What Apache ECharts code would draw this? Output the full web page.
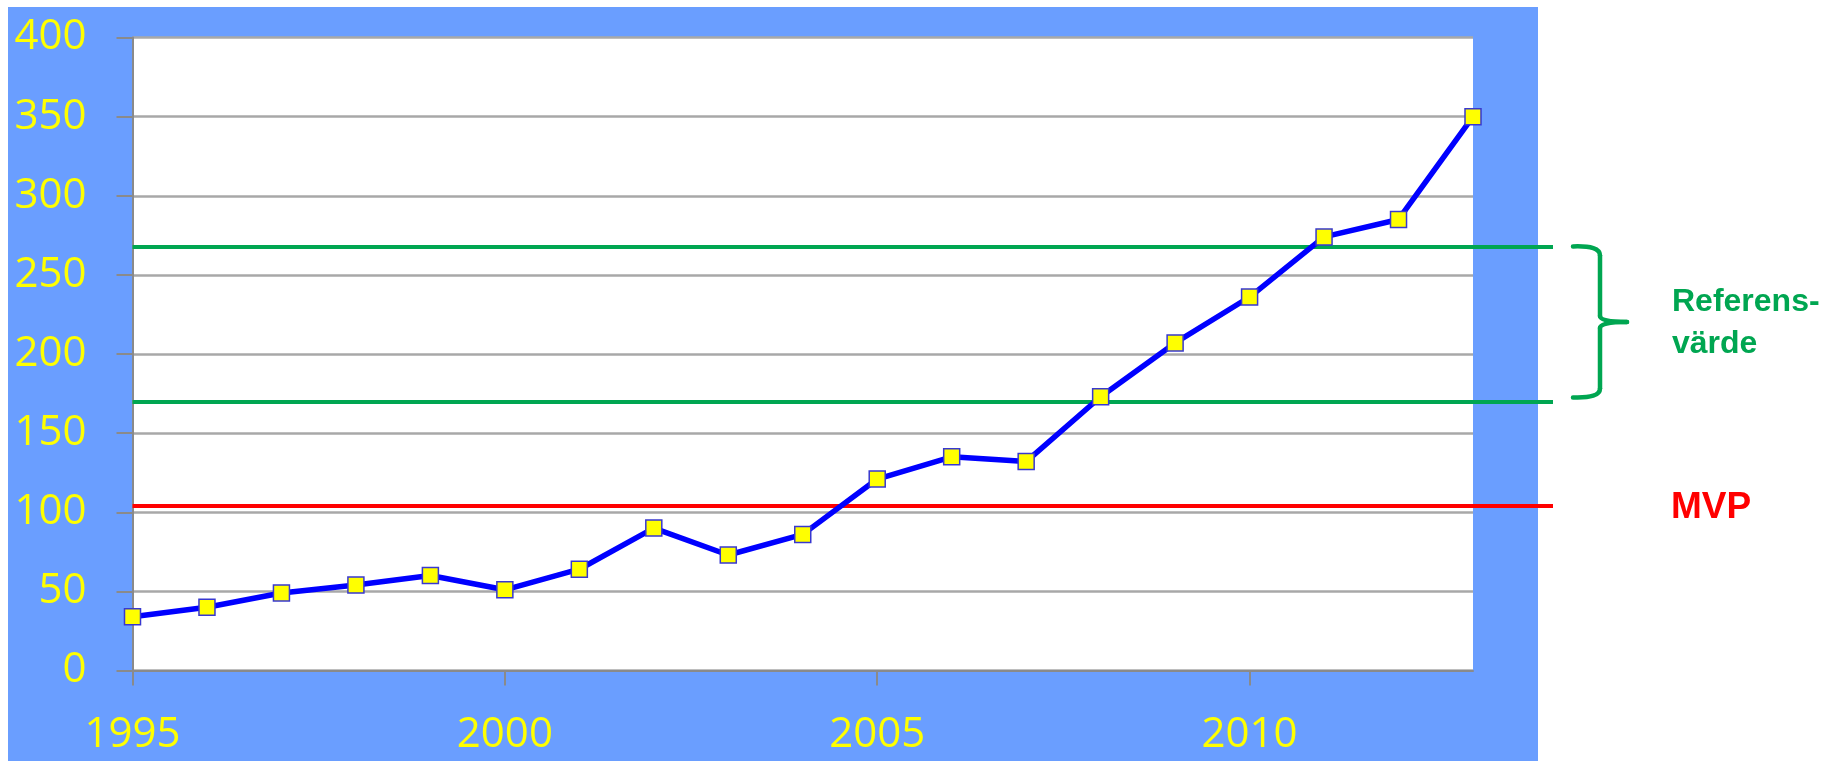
<!DOCTYPE html>
<html>
<head>
<meta charset="utf-8">
<script src="https://cdn.jsdelivr.net/npm/echarts@6/dist/echarts.min.js"></script>
<style>
  html, body { margin: 0; padding: 0; background: #fff; }
  #panel { position: absolute; left: 8px; top: 7px; width: 1530px; height: 754px; background: #6A9EFF; }
  #chart { position: absolute; left: 0; top: 0; width: 1835px; height: 761px; }
</style>
</head>
<body>
<div id="panel"></div>
<div id="chart"></div>
<script>
// yearly counts
const years = [1995, 1996, 1997, 1998, 1999, 2000, 2001, 2002, 2003, 2004,
  2005, 2006, 2007, 2008, 2009, 2010, 2011, 2012, 2013];
const counts = [34, 40, 49, 54, 60, 51, 64, 90, 73, 86,
  121, 135, 132, 173, 207, 236, 274, 285, 350];

// reference band + minimum viable population
const refUpper = 268;
const refLower = 170;
const mvp = 104;
const refLabel = "Referens-\nvärde";
const mvpLabel = "MVP";

const chart = echarts.init(document.getElementById("chart"));

const axisGray = "#8A8A8A";
const labelYellow = "#FFFF00";
const green = "#00A651";

// horizontal lines run from the plot's left edge out past the panel
const hLine = (v, color) => [
  { xAxis: years[0], yAxis: v, lineStyle: { color, width: 4, type: "solid" } },
  { x: 1553, yAxis: v },
];

chart.setOption({
  animation: false,
  backgroundColor: "transparent",
  grid: { left: 132.5, right: 362, top: 37.5, bottom: 90.5, show: true, backgroundColor: "#fff", borderWidth: 0 },
  xAxis: {
    type: "value", min: 1995, max: 2013, interval: 5,
    axisLine: { lineStyle: { color: axisGray, width: 2 } },
    axisTick: { show: true, length: 15, lineStyle: { color: axisGray, width: 2 } },
    axisLabel: { color: labelYellow, fontFamily: "Open Sans", fontSize: 42, margin: 44, showMaxLabel: false,
      formatter: (v) => String(v) },
    splitLine: { show: false },
  },
  yAxis: {
    type: "value", min: 0, max: 400, interval: 50,
    axisLine: { show: true, lineStyle: { color: axisGray, width: 2 } },
    axisTick: { show: true, length: 16, lineStyle: { color: axisGray, width: 2 } },
    axisLabel: { color: labelYellow, fontFamily: "Open Sans", fontSize: 42, margin: 46 },
    splitLine: { lineStyle: { color: "#A8A8A8", width: 2.5 } },
  },
  series: [{
    type: "line",
    data: years.map((y, i) => [y, counts[i]]),
    clip: false,
    lineStyle: { color: "#0000FF", width: 5.5 },
    symbol: "rect", symbolSize: 16,
    itemStyle: { color: "#FFFF00", borderColor: "#3838D0", borderWidth: 1.5 },
    z: 3,
    markLine: {
      silent: true, symbol: "none", label: { show: false }, z: 2,
      data: [hLine(refUpper, green), hLine(refLower, green), hLine(mvp, "#FF0000")],
    },
  }],
});

// annotations on the right, placed from the y scale
const yTop = chart.convertToPixel({ yAxisIndex: 0 }, refUpper);
const yBot = chart.convertToPixel({ yAxisIndex: 0 }, refLower) - 4;
const yMid = (yTop + yBot) / 2;
const yMvp = chart.convertToPixel({ yAxisIndex: 0 }, mvp);
const bx0 = 1573, bx1 = 1600, bxTip = 1627;
const braceStyle = { fill: "none", stroke: green, lineWidth: 4.5, lineCap: "round" };
const curve = (x1, y1, cx, cy, x2, y2) => ({
  type: "bezierCurve", silent: true, style: braceStyle,
  shape: { x1, y1, cpx1: cx, cpy1: cy, x2, y2 },
});
const seg = (x1, y1, x2, y2) => ({ type: "line", silent: true, style: braceStyle, shape: { x1, y1, x2, y2 } });

chart.setOption({
  graphic: [
    curve(bx0, yTop, bx1, yTop - 1, bx1, yTop + 9),
    seg(bx1, yTop + 9, bx1, yMid - 6),
    curve(bx1, yMid - 6, bx1, yMid, bxTip, yMid),
    curve(bxTip, yMid, bx1, yMid, bx1, yMid + 6),
    seg(bx1, yMid + 6, bx1, yBot - 9),
    curve(bx1, yBot - 9, bx1, yBot + 1, bx0, yBot),
    {
      type: "text", silent: true, x: 1672, y: yMid + 1,
      style: { text: refLabel, fill: green, font: "bold 32px 'Liberation Sans'", lineHeight: 42, verticalAlign: "middle" },
    },
    {
      type: "text", silent: true, x: 1671, y: yMvp + 2,
      style: { text: mvpLabel, fill: "#FF0000", font: "bold 37px 'Liberation Sans'", verticalAlign: "middle" },
    },
  ],
});
</script>
</body>
</html>
